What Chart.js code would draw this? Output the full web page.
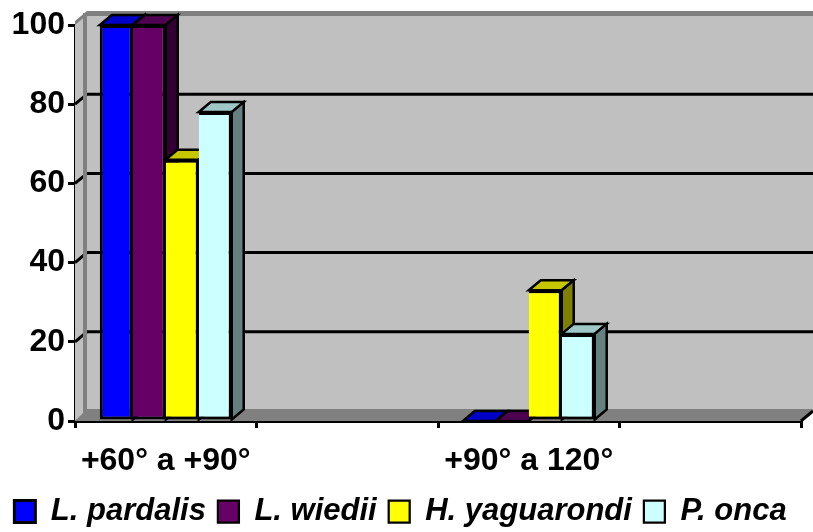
<!DOCTYPE html>
<html>
<head>
<meta charset="utf-8">
<script src="https://cdn.jsdelivr.net/npm/chart.js@4"></script>
<style>
  html, body { margin: 0; padding: 0; background: #fff; }
  canvas { display: block; }
</style>
</head>
<body>
<canvas id="chart" width="813" height="532"></canvas>
<script>
// data
const categories = ['+60° a +90°', '', '+90° a 120°', ''];
const seriesNames = ['L. pardalis', 'L. wiedii', 'H. yaguarondi', 'P. onca'];
const pardalis = [100, null, 0, null];
const wiedii = [100, null, 0, null];
const yaguarondi = [66, null, 33, null];
const onca = [78, null, 22, null];
const yTicks = [0, 20, 40, 60, 80, 100];

const seriesValues = [pardalis, wiedii, yaguarondi, onca];
const colors = ['#0000ff', '#660066', '#ffff00', '#ccffff'];

// fake 3d depth
const DX = 12;
const DY = -10;
const LINE = 3;

function shade(hex, f) {
  const n = parseInt(hex.slice(1), 16);
  const r = Math.round(((n >> 16) & 255) * f);
  const g = Math.round(((n >> 8) & 255) * f);
  const b = Math.round((n & 255) * f);
  return `rgb(${r},${g},${b})`;
}

function poly(ctx, pts, fill) {
  ctx.beginPath();
  ctx.moveTo(pts[0][0], pts[0][1]);
  for (let i = 1; i < pts.length; i++) ctx.lineTo(pts[i][0], pts[i][1]);
  ctx.closePath();
  ctx.fillStyle = fill;
  ctx.fill();
}

const walls3d = {
  id: 'walls3d',
  beforeInit(chart) {
    // fixed legend height so the plot area lands where it should
    const fit = chart.legend.fit;
    chart.legend.fit = function () {
      fit.call(this);
      this.height = 48;
    };
  },
  beforeDatasetsDraw(chart) {
    const { ctx, chartArea: a, scales } = chart;
    const y = scales.y;
    ctx.save();

    // back wall + top edge
    poly(ctx, [[a.left + DX, a.top + DY], [a.right + DX, a.top + DY], [a.right + DX, a.bottom + DY], [a.left + DX, a.bottom + DY]], '#c0c0c0');
    poly(ctx, [[a.left, a.top - 4], [a.left + DX, a.top + DY - 4], [a.right + DX, a.top + DY - 4], [a.right + DX, a.top + DY + 1], [a.left + DX, a.top + DY + 1], [a.left, a.top + 1]], '#808080');
    // side wall
    poly(ctx, [[a.left, a.top], [a.left + DX, a.top + DY], [a.left + DX, a.bottom + DY], [a.left, a.bottom]], '#c0c0c0');
    // floor
    poly(ctx, [[a.left, a.bottom], [a.right, a.bottom], [a.right + DX, a.bottom + DY - 2], [a.left + DX, a.bottom + DY - 2]], '#808080');

    // gridlines on the walls
    ctx.strokeStyle = '#000';
    ctx.lineWidth = LINE;
    yTicks.forEach(v => {
      if (v === 0 || v === 100) return;
      const py = y.getPixelForValue(v);
      ctx.beginPath();
      ctx.moveTo(a.left, py);
      ctx.lineTo(a.left + DX, py + DY);
      ctx.lineTo(a.right + DX, py + DY);
      ctx.stroke();
    });
    // wall thickness strip
    poly(ctx, [[a.left + DX - 4, a.top + DY - 2], [a.left + DX, a.top + DY - 2], [a.left + DX, a.bottom + DY], [a.left + DX - 4, a.bottom + DY + 2]], '#808080');

    // depth faces of bars, left to right
    ctx.lineWidth = 2.5;
    for (let j = 0; j < categories.length; j++) {
      for (let i = 0; i < seriesValues.length; i++) {
        if (seriesValues[i][j] === null) continue;
        const bar = chart.getDatasetMeta(i).data[j];
        const p = bar.getProps(['x', 'y', 'base', 'width'], true);
        const l = p.x - p.width / 2;
        const r = p.x + p.width / 2;
        const t = p.y;
        const b = p.base;
        const top = [[l, t], [r, t], [r + DX, t + DY], [l + DX, t + DY]];
        poly(ctx, top, shade(colors[i], 0.78));
        ctx.stroke();
        if (b - t > 0.5) {
          const side = [[r, t], [r + DX, t + DY], [r + DX, b + DY], [r, b]];
          poly(ctx, side, shade(colors[i], 0.5));
          ctx.stroke();
        }
      }
    }
    ctx.restore();
  },
  afterDraw(chart) {
    const { ctx, chartArea: a } = chart;
    ctx.save();
    ctx.strokeStyle = '#000';
    ctx.lineWidth = LINE;
    ctx.beginPath();
    ctx.moveTo(a.right, a.bottom);
    ctx.lineTo(a.right + DX, a.bottom + DY);
    ctx.stroke();
    ctx.restore();
  }
};

Chart.defaults.font.family = "'Liberation Sans', Arial, sans-serif";
Chart.defaults.color = '#000';

new Chart(document.getElementById('chart'), {
  type: 'bar',
  data: {
    labels: categories,
    datasets: seriesValues.map((vals, i) => ({
      label: seriesNames[i],
      data: vals,
      backgroundColor: colors[i],
      borderColor: '#000',
      borderWidth: { top: LINE, right: LINE, bottom: LINE, left: i === 0 ? LINE : 0 },
      borderSkipped: false,
      barPercentage: 1,
      categoryPercentage: 0.727
    }))
  },
  options: {
    responsive: false,
    animation: false,
    devicePixelRatio: 1,
    layout: { padding: { top: 25, right: 12, left: 0, bottom: 0 } },
    plugins: {
      legend: {
        position: 'bottom',
        labels: {
          boxWidth: 21,
          boxHeight: 22,
          padding: 12,
          font: { size: 31, weight: 'bold', style: 'italic' }
        }
      },
      tooltip: { enabled: false }
    },
    scales: {
      x: {
        z: 1,
        grid: { offset: true, drawOnChartArea: false, tickLength: 7, color: '#000', lineWidth: LINE },
        border: { color: '#000', width: LINE },
        ticks: { autoSkip: false, maxRotation: 0, padding: 14, font: { size: 32, weight: 'bold' } },
        afterFit(scale) { scale.height = 63; }
      },
      y: {
        z: 1,
        min: 0,
        max: 100,
        grid: { drawOnChartArea: false, tickLength: 7, color: '#000', lineWidth: LINE },
        border: { color: '#000', width: LINE },
        ticks: { stepSize: 20, padding: 3, font: { size: 32, weight: 'bold' } },
        afterFit(scale) { scale.width = 75; }
      }
    }
  },
  plugins: [walls3d]
});
</script>
</body>
</html>
